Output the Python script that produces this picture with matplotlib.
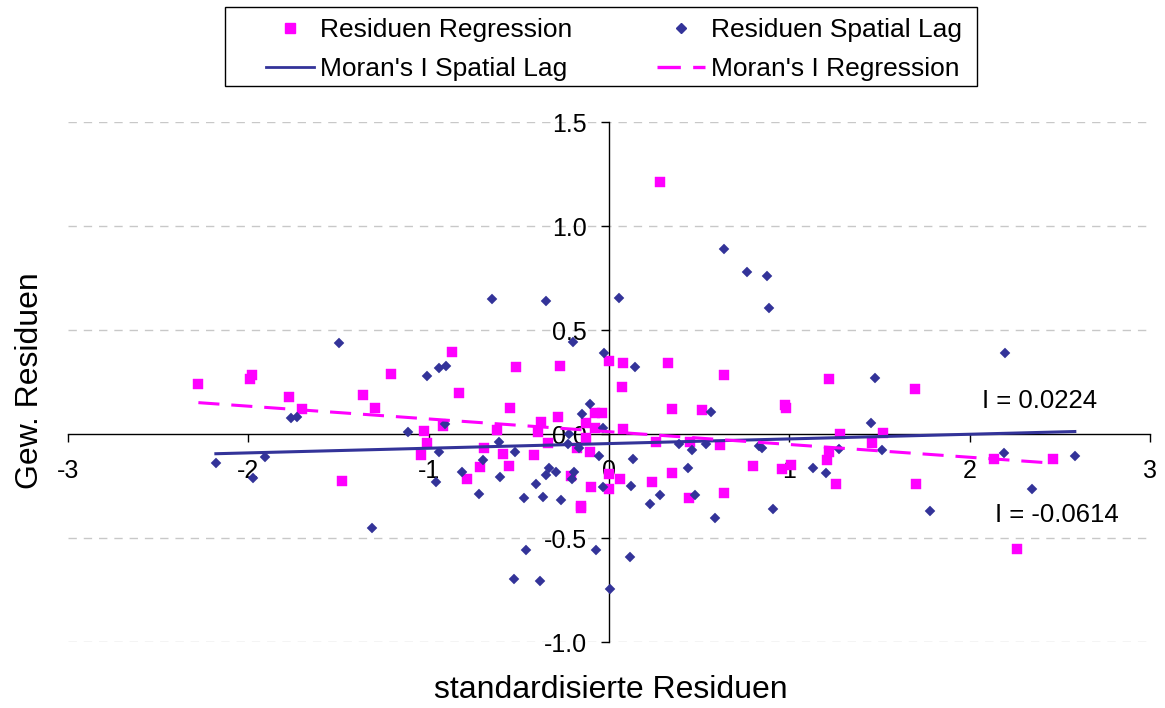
import numpy as np
import matplotlib
matplotlib.use("Agg")
import matplotlib.pyplot as plt
from matplotlib.lines import Line2D
from matplotlib.patches import Rectangle

plt.rcParams['font.family'] = ['Liberation Sans', 'DejaVu Sans']

# Standardised residuals (x) and spatially weighted residuals (y), OLS regression
x_reg = [-2.277, -1.992, -1.981, -1.775, -1.700, -1.483, -1.366, -1.300, -1.210, -1.040,
         -1.026, -1.012, -0.923, -0.868, -0.834, -0.785, -0.716, -0.692, -0.620, -0.587,
         -0.556, -0.551, -0.518, -0.415, -0.395, -0.376, -0.340, -0.281, -0.269, -0.212,
         -0.178, -0.158, -0.154, -0.125, -0.128, -0.107, -0.099, -0.079, -0.039, -0.079,
         0.002, 0.000, 0.059, 0.000, 0.070, 0.075, 0.077, 0.241, 0.261, 0.285,
         0.326, 0.350, 0.350, 0.445, 0.449, 0.518, 0.617, 0.636, 0.636, 0.799,
         0.957, 0.976, 0.982, 1.008, 1.211, 1.220, 1.221, 1.257, 1.283, 1.459,
         1.518, 1.696, 1.702, 2.133, 2.261, 2.463]
y_reg = [0.240, 0.266, 0.284, 0.176, 0.120, -0.226, 0.186, 0.123, 0.288, -0.099,
         0.016, -0.042, 0.038, 0.393, 0.196, -0.216, -0.160, -0.069, 0.019, -0.096,
         -0.152, 0.123, 0.321, -0.103, 0.011, 0.056, -0.042, 0.082, 0.325, -0.200,
         -0.069, -0.346, -0.357, 0.051, -0.021, -0.085, -0.256, 0.102, 0.102, 0.027,
         0.353, -0.192, -0.218, -0.266, 0.224, 0.341, 0.022, -0.229, -0.040, 1.213,
         0.341, 0.119, -0.189, -0.309, -0.040, 0.115, -0.053, 0.285, -0.285, -0.154,
         -0.168, 0.139, 0.123, -0.147, -0.125, -0.085, 0.266, -0.242, 0.000, -0.045,
         0.006, 0.218, -0.242, -0.120, -0.553, -0.119]

# Same for the spatial lag model
x_lag = [-2.180, -1.976, -1.907, -1.763, -1.729, -1.496, -1.314, -1.117, -1.008, -0.958,
         -0.945, -0.943, -0.909, -0.905, -0.816, -0.722, -0.698, -0.648, -0.609, -0.603,
         -0.524, -0.526, -0.474, -0.461, -0.405, -0.384, -0.364, -0.352, -0.347, -0.332,
         -0.293, -0.265, -0.221, -0.229, -0.201, -0.196, -0.205, -0.164, -0.148, -0.107,
         -0.071, -0.053, -0.032, -0.034, -0.030, 0.006, 0.054, 0.117, 0.122, 0.134,
         0.146, 0.227, 0.281, 0.390, 0.439, 0.463, 0.478, 0.538, 0.563, 0.587,
         0.640, 0.765, 0.830, 0.848, 0.878, 0.889, 0.909, 1.130, 1.202, 1.275,
         1.451, 1.477, 1.512, 1.781, 2.192, 2.194, 2.348, 2.583]
y_lag = [-0.139, -0.213, -0.111, 0.077, 0.083, 0.436, -0.450, 0.008, 0.280, -0.232,
         0.319, -0.088, 0.048, 0.327, -0.184, -0.290, -0.127, 0.648, -0.037, -0.208,
         -0.088, -0.695, -0.306, -0.558, -0.239, -0.708, -0.301, 0.639, -0.197, -0.165,
         -0.181, -0.317, 0.000, -0.046, 0.444, -0.183, -0.216, -0.069, 0.096, 0.143,
         -0.556, -0.108, 0.027, -0.253, 0.388, -0.747, 0.655, -0.593, -0.250, -0.119,
         0.324, -0.337, -0.293, -0.050, -0.165, -0.077, -0.295, -0.048, 0.106, -0.404,
         0.889, 0.777, -0.056, -0.069, 0.761, 0.604, -0.362, -0.162, -0.189, -0.072,
         0.051, 0.269, -0.077, -0.369, -0.093, 0.388, -0.266, -0.106]

# Moran's I (slope of the Moran scatterplot) and line intercepts
moran_lag, icpt_lag = 0.0224, -0.046
moran_reg, icpt_reg = -0.0614, 0.011

x_ticks = [-3, -2, -1, 0, 1, 2, 3]
y_ticks = [-1.0, -0.5, 0.0, 0.5, 1.0, 1.5]

PINK = '#FF00FF'
NAVY = '#333399'
DASH_REG = (6.9, 3.9)

W, H = 1165, 708
fig = plt.figure(figsize=(W / 100, H / 100), dpi=100)
ax = fig.add_axes([68 / W, 1 - 642 / H, (1150 - 68) / W, (642 - 122) / H])

ax.set_xlim(-3, 3)
ax.set_ylim(-1.0, 1.5)

# Horizontal dashed grid
for yv in y_ticks:
    if yv != 0.0:
        ax.axhline(yv, color='#c8c8c8', lw=1.0, dashes=(6, 5), zorder=0.5)

# Scatter points
ax.plot(x_reg, y_reg, ls='none', marker='s', ms=7.3, mfc=PINK, mec=PINK, mew=0.3,
        zorder=2)
ax.plot(x_lag, y_lag, ls='none', marker='D', ms=4.8, mfc=NAVY, mec=NAVY, mew=0.3,
        zorder=2)

# Moran's I lines
xl = np.array([min(x_lag), max(x_lag)])
ax.plot(xl, icpt_lag + moran_lag * xl, color=NAVY, lw=2.2, zorder=3)
xr = np.array([min(x_reg), max(x_reg)])
ax.plot(xr, icpt_reg + moran_reg * xr, color=PINK, lw=2.2, dashes=DASH_REG, zorder=3)

# Axes crossing at the origin
for s in ('top', 'right'):
    ax.spines[s].set_visible(False)
ax.spines['left'].set_position(('data', 0))
ax.spines['bottom'].set_position(('data', 0))
for s in ('left', 'bottom'):
    ax.spines[s].set_linewidth(1.0)
    ax.spines[s].set_color('black')
    ax.spines[s].set_zorder(1)

ax.set_xticks(x_ticks)
ax.set_xticklabels([f'{v:d}' for v in x_ticks])
ax.set_yticks(y_ticks)
ax.set_yticklabels([f'{v:.1f}' for v in y_ticks])
ax.tick_params(axis='both', direction='out', length=6, width=1.0, labelsize=18)
ax.tick_params(axis='x', pad=12)
ax.tick_params(axis='y', pad=10)
for lbl in ax.get_xticklabels() + ax.get_yticklabels():
    lbl.set_zorder(5)

ax.text(2.07, 0.16, 'I = 0.0224', fontsize=18.5, ha='left', va='center')
ax.text(2.14, -0.39, 'I = -0.0614', fontsize=18.5, ha='left', va='center')

fig.text(611 / W, 1 - 690 / H, 'standardisierte Residuen', fontsize=23,
         ha='center', va='center')
fig.text(30 / W, 1 - 381 / H, 'Gew. Residuen', fontsize=23, rotation=90,
         ha='center', va='center')

# Legend: entries without frame, box drawn separately
handles = [
    Line2D([], [], ls='none', marker='s', ms=7.3, mfc=PINK, mec=PINK),
    Line2D([], [], color=NAVY, lw=2.0),
    Line2D([], [], ls='none', marker='D', ms=4.8, mfc=NAVY, mec=NAVY),
    Line2D([], [], color=PINK, lw=2.4, dashes=(7, 3.7)),
]
labels = ['Residuen Regression', "Moran's I Spatial Lag",
          'Residuen Spatial Lag', "Moran's I Regression"]
fig.legend(handles, labels, ncol=2, loc='upper center',
           bbox_to_anchor=(614 / W, 1 - 18 / H), fontsize=19,
           frameon=False, handlelength=1.82, handletextpad=0.23,
           columnspacing=3.2, borderpad=0, labelspacing=0.58, borderaxespad=0)
fig.patches.append(Rectangle((225 / W, 1 - 86 / H), (977 - 225) / W, (86 - 7) / H,
                             transform=fig.transFigure, fill=False,
                             edgecolor='black', lw=1.0))

fig.savefig('out.png', dpi=100)
